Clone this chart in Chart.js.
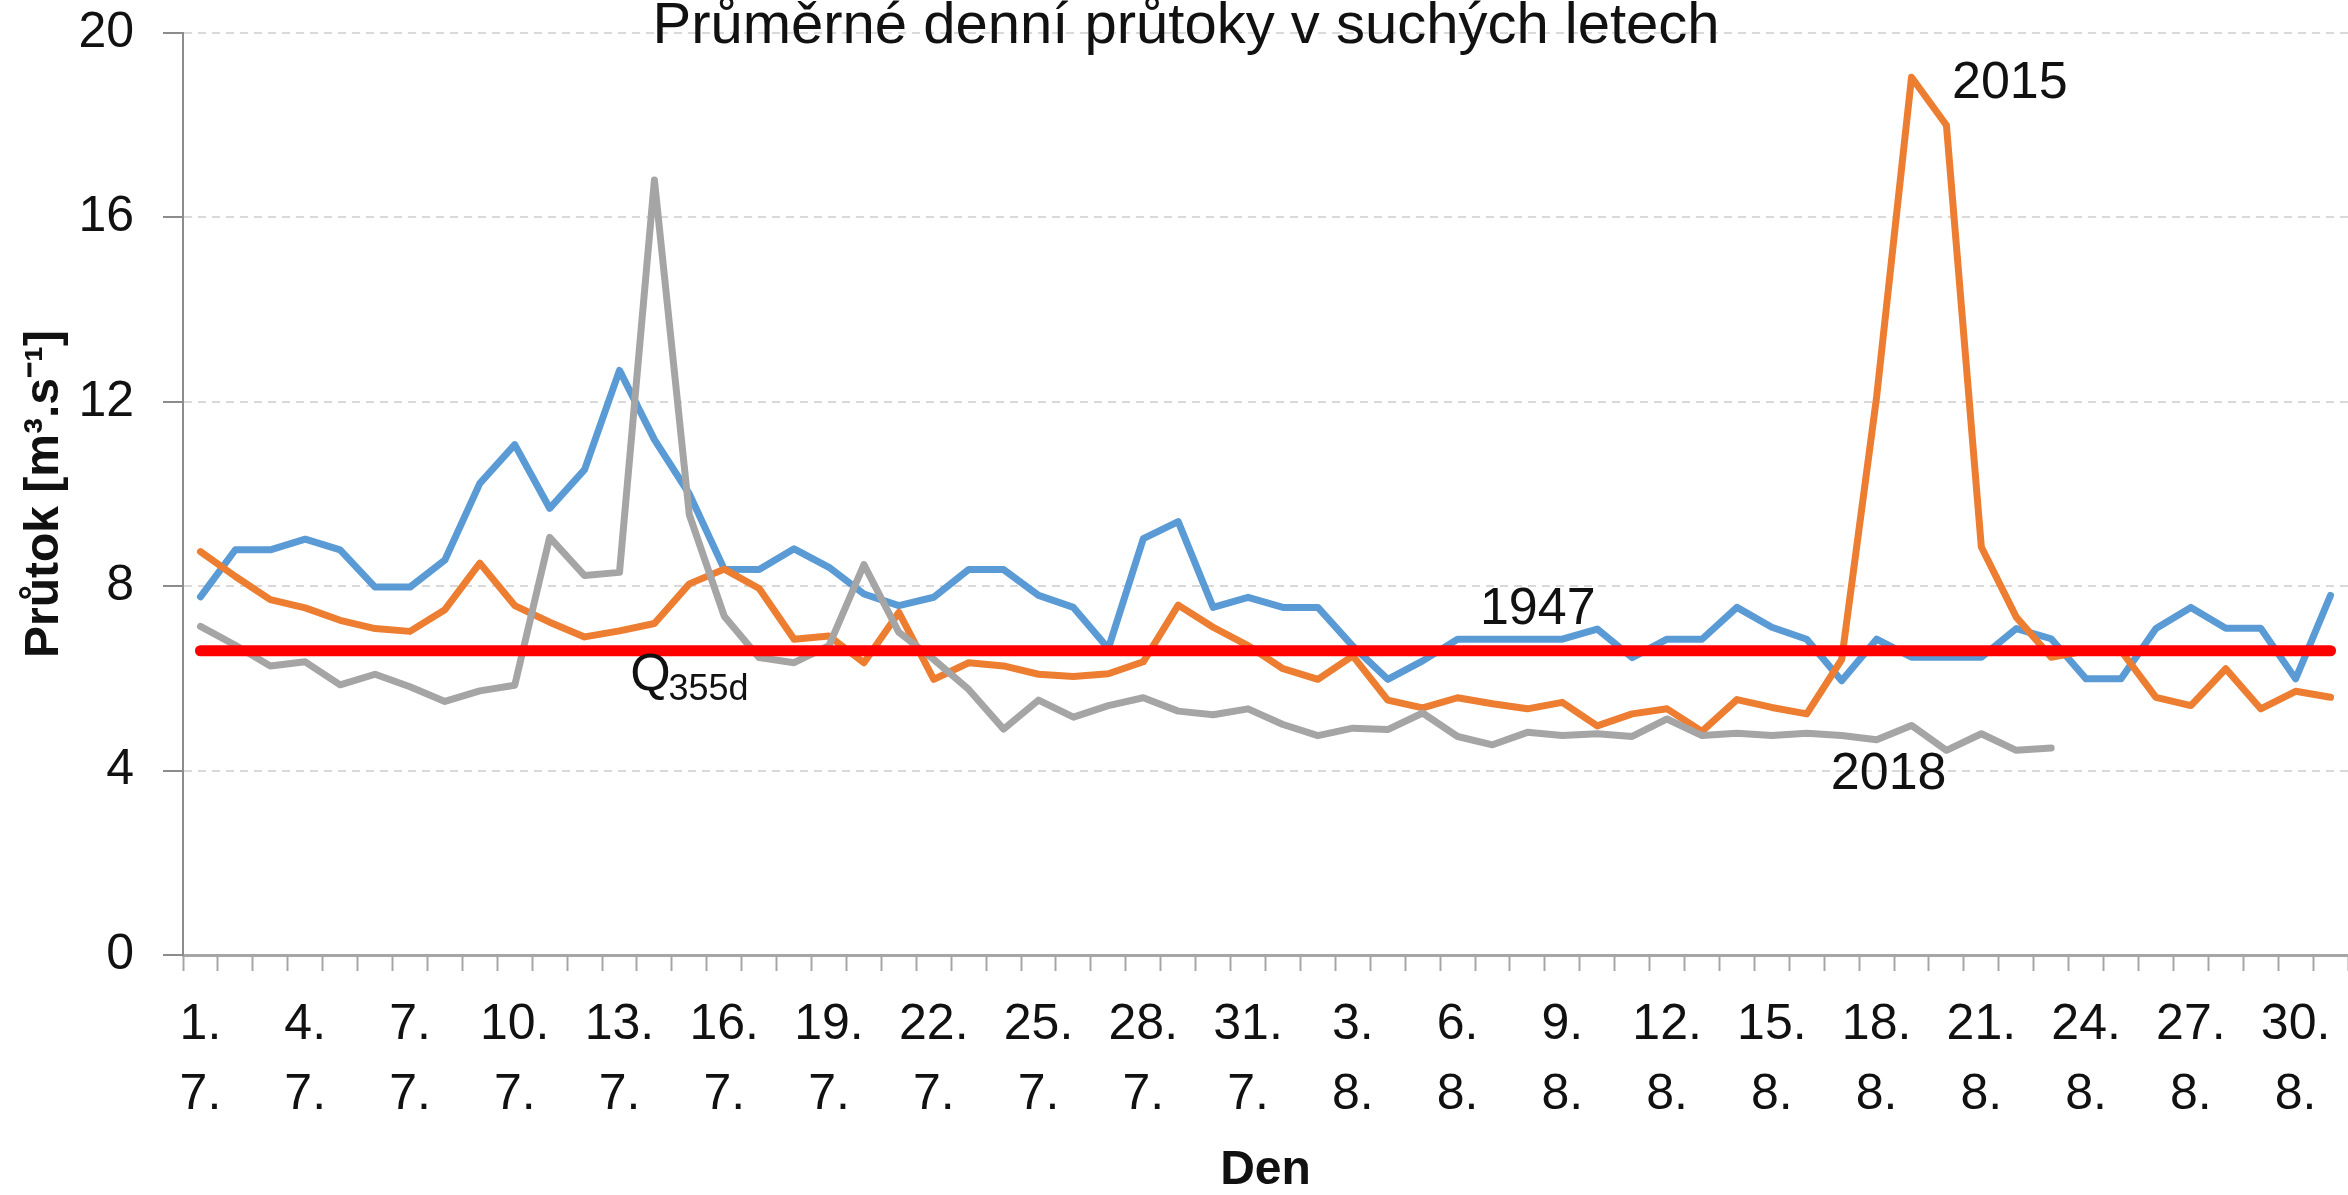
<!DOCTYPE html>
<html>
<head>
<meta charset="utf-8">
<script src="https://cdn.jsdelivr.net/npm/chart.js@4.4.0/dist/chart.umd.min.js"></script>
<style>
    html, body { margin: 0; padding: 0; background: #fff; }
    #wrap { width: 2348px; height: 1195px; }
</style>
</head>
<body>
<div id="wrap"><canvas id="myChart"></canvas></div>
<script>
// days 1.7. - 31.8.
const days = [
    '1. 7.', '2. 7.', '3. 7.', '4. 7.', '5. 7.', '6. 7.', '7. 7.', '8. 7.', '9. 7.', '10. 7.',
    '11. 7.', '12. 7.', '13. 7.', '14. 7.', '15. 7.', '16. 7.', '17. 7.', '18. 7.', '19. 7.', '20. 7.',
    '21. 7.', '22. 7.', '23. 7.', '24. 7.', '25. 7.', '26. 7.', '27. 7.', '28. 7.', '29. 7.', '30. 7.', '31. 7.',
    '1. 8.', '2. 8.', '3. 8.', '4. 8.', '5. 8.', '6. 8.', '7. 8.', '8. 8.', '9. 8.', '10. 8.',
    '11. 8.', '12. 8.', '13. 8.', '14. 8.', '15. 8.', '16. 8.', '17. 8.', '18. 8.', '19. 8.', '20. 8.',
    '21. 8.', '22. 8.', '23. 8.', '24. 8.', '25. 8.', '26. 8.', '27. 8.', '28. 8.', '29. 8.', '30. 8.', '31. 8.'
];

const flow1947 = [
    7.77, 8.79, 8.79, 9.02, 8.79, 7.98, 7.98, 8.57, 10.23, 11.07,
    9.69, 10.53, 12.68, 11.18, 10.0, 8.37, 8.36, 8.81, 8.41, 7.83,
    7.58, 7.76, 8.36, 8.36, 7.80, 7.54, 6.65, 9.03, 9.40, 7.54, 7.76,
    7.54, 7.54, 6.70, 5.98, 6.38, 6.85, 6.85, 6.85, 6.85, 7.07,
    6.45, 6.85, 6.85, 7.54, 7.11, 6.85, 5.95, 6.85, 6.46, 6.46,
    6.46, 7.08, 6.86, 5.99, 5.99, 7.08, 7.54, 7.09, 7.09, 5.99, 7.80
];

const flow2015 = [
    8.75, 8.21, 7.71, 7.53, 7.26, 7.08, 7.02, 7.49, 8.50, 7.58,
    7.22, 6.90, 7.03, 7.19, 8.05, 8.37, 7.95, 6.85, 6.92, 6.34,
    7.43, 5.98, 6.34, 6.27, 6.09, 6.04, 6.10, 6.36, 7.59, 7.11, 6.71,
    6.21, 5.98, 6.49, 5.53, 5.36, 5.58, 5.45, 5.34, 5.48, 4.97,
    5.23, 5.34, 4.85, 5.54, 5.37, 5.23, 6.41, 12.1, 19.04, 18.0,
    8.85, 7.33, 6.46, 6.60, 6.60, 5.59, 5.41, 6.21, 5.34, 5.72, 5.59
];

const flow2018 = [
    7.13, 6.72, 6.27, 6.36, 5.86, 6.09, 5.82, 5.50, 5.73, 5.85,
    9.06, 8.23, 8.30, 16.81, 9.55, 7.35, 6.45, 6.34, 6.71, 8.47,
    7.00, 6.41, 5.76, 4.90, 5.53, 5.16, 5.41, 5.58, 5.29, 5.21, 5.34,
    5.00, 4.76, 4.92, 4.89, 5.25, 4.74, 4.56, 4.83, 4.76, 4.80,
    4.74, 5.12, 4.76, 4.81, 4.76, 4.81, 4.76, 4.67, 4.98, 4.44,
    4.80, 4.44, 4.49, null, null, null, null, null, null, null, null
];

const q355d = 6.6;
const yTicks = [0, 4, 8, 12, 16, 20];

const FONT = "'Liberation Sans', sans-serif";

// title and the line labels, placed in data units
const textLabels = {
    id: 'textLabels',
    afterDatasetsDraw(chart) {
        const { ctx, scales: { x, y } } = chart;
        ctx.save();
        ctx.fillStyle = '#111';
        ctx.textBaseline = 'alphabetic';

        ctx.textAlign = 'center';
        ctx.font = '58px ' + FONT;
        ctx.fillText('Průměrné denní průtoky v suchých letech', chart.width / 2 + 12, 43);

        ctx.textAlign = 'left';
        ctx.font = '52px ' + FONT;
        ctx.fillText('2015', x.getPixelForValue(50.16), y.getPixelForValue(18.6));
        ctx.fillText('1947', x.getPixelForValue(36.64), y.getPixelForValue(7.17));
        ctx.fillText('2018', x.getPixelForValue(46.69), y.getPixelForValue(3.61));
        ctx.fillText('Q', x.getPixelForValue(12.31), y.getPixelForValue(5.74));
        ctx.font = '36px ' + FONT;
        ctx.fillText('355d', x.getPixelForValue(13.4), y.getPixelForValue(5.54));
        ctx.restore();
    }
};

const ctx = document.getElementById('myChart');

new Chart(ctx, {
    type: 'line',
    data: {
        labels: days,
        datasets: [
            { label: '1947', data: flow1947, borderColor: '#5B9BD5', borderWidth: 7, order: 4 },
            { label: '2015', data: flow2015, borderColor: '#ED7D31', borderWidth: 7, order: 3 },
            { label: '2018', data: flow2018, borderColor: '#A5A5A5', borderWidth: 7, order: 2 },
            { label: 'Q355d', data: days.map(() => q355d), borderColor: '#FF0000', borderWidth: 11, order: 1 }
        ]
    },
    options: {
        responsive: true,
        maintainAspectRatio: false,
        animation: false,
        layout: { padding: { top: 33, right: 0, bottom: 0, left: 0 } },
        elements: {
            point: { radius: 0 },
            line: { tension: 0, borderCapStyle: 'round', borderJoinStyle: 'round' }
        },
        scales: {
            x: {
                offset: true,
                afterFit: function(scale) {
                    scale.height = 240;
                    scale.paddingLeft = 0;
                    scale.paddingRight = 0;
                },
                grid: {
                    offset: true,
                    drawOnChartArea: false,
                    drawTicks: true,
                    tickLength: 16,
                    tickColor: '#A6A6A6',
                    tickWidth: 2
                },
                border: { display: true, color: '#A6A6A6', width: 3 },
                ticks: {
                    autoSkip: false,
                    maxRotation: 0,
                    minRotation: 0,
                    padding: 19,
                    color: '#111',
                    font: { family: FONT, size: 50, lineHeight: 1.4 },
                    callback: function(value, index) {
                        if (index % 3 !== 0) return '';
                        return days[index].split(' ');
                    }
                },
                title: {
                    display: true,
                    text: 'Den',
                    color: '#111',
                    padding: { top: 0, bottom: 0 },
                    font: { family: FONT, size: 48, weight: 'bold', lineHeight: 1 }
                }
            },
            y: {
                min: 0,
                max: 20,
                afterFit: function(scale) {
                    scale.width = 183;
                    scale.paddingTop = 0;
                    scale.paddingBottom = 0;
                },
                afterBuildTicks: function(scale) {
                    scale.ticks = yTicks.map(v => ({ value: v }));
                },
                grid: {
                    color: (c) => c.tick && c.tick.value === 0 ? 'rgba(0,0,0,0)' : '#D9D9D9',
                    lineWidth: 2,
                    drawTicks: true,
                    tickLength: 20,
                    tickColor: '#8C8C8C',
                    tickWidth: 2
                },
                border: { display: true, color: '#8C8C8C', width: 2, dash: [8, 6] },
                ticks: {
                    padding: 29,
                    color: '#111',
                    font: { family: FONT, size: 50 }
                },
                title: {
                    display: true,
                    text: 'Průtok [m³.s⁻¹]',
                    color: '#111',
                    padding: { top: 16, bottom: 0 },
                    font: { family: FONT, size: 48, weight: 'bold' }
                }
            }
        },
        plugins: {
            legend: { display: false },
            tooltip: { enabled: false }
        }
    },
    plugins: [textLabels]
});
</script>
</body>
</html>
